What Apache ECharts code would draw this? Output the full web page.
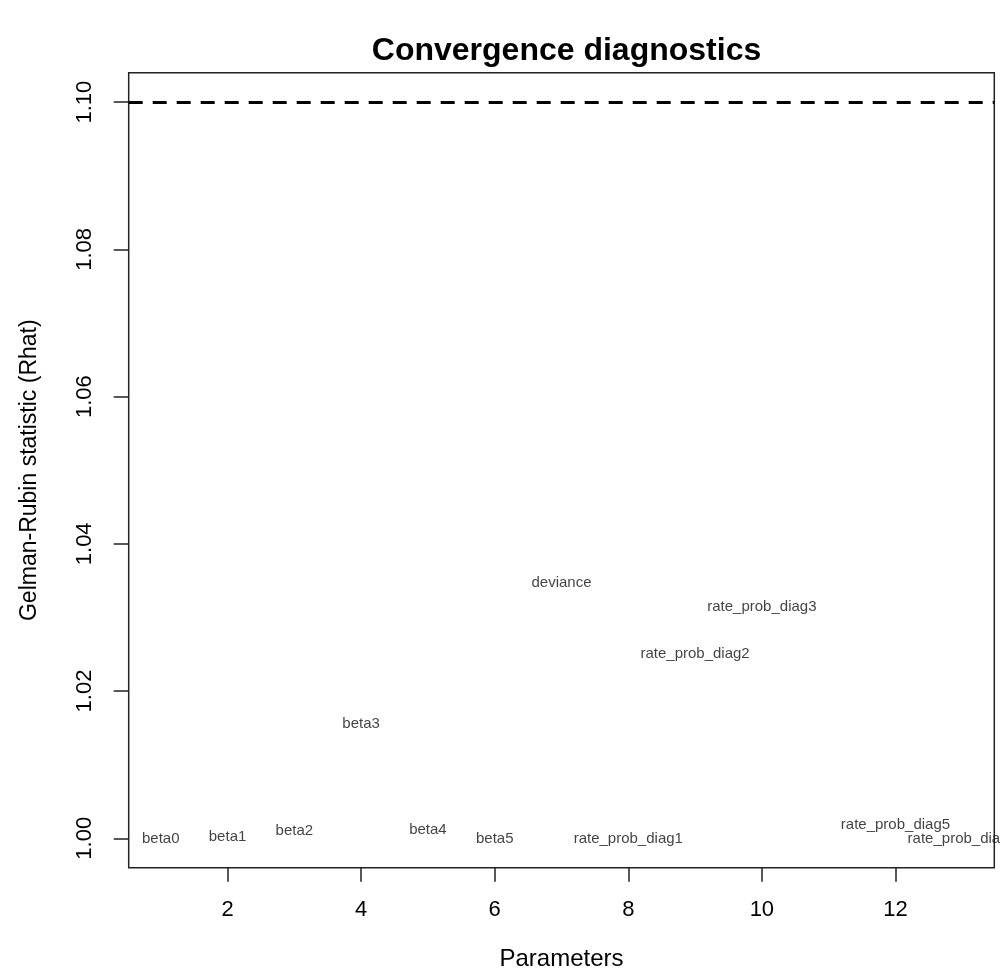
<!DOCTYPE html>
<html>
<head>
<meta charset="utf-8">
<script src="https://cdn.jsdelivr.net/npm/echarts@6/dist/echarts.min.js"></script>
<style>
html,body{margin:0;padding:0;background:#fff;}
#chart{width:1000px;height:971px;}
</style>
</head>
<body>
<div id="chart"></div>
<script>
const categories = ['beta0','beta1','beta2','beta3','beta4','beta5','deviance',
  'rate_prob_diag1','rate_prob_diag2','rate_prob_diag3','rate_prob_diag4','rate_prob_diag5','rate_prob_diag6'];
const rhat = [0.9999, 1.0002, 1.0010, 1.0155, 1.0012, 0.9999, 1.0347,
  0.9999, 1.0250, 1.0315, null, 1.0018, 0.9999];
const xTicks = [2, 4, 6, 8, 10, 12];
const yTicks = [1.00, 1.02, 1.04, 1.06, 1.08, 1.10];
const threshold = 1.1;

const FONT = "'Liberation Sans', Arial, Helvetica, sans-serif";
const points = [];
categories.forEach((c, i) => {
  if (rhat[i] !== null) points.push({ value: [i + 1, rhat[i]], name: c });
});

const chart = echarts.init(document.getElementById('chart'), null, { renderer: 'canvas' });
chart.setOption({
  backgroundColor: '#ffffff',
  animation: false,
  textStyle: { fontFamily: FONT },
  title: {
    text: 'Convergence diagnostics',
    left: 561.5, top: 30, textAlign: 'center',
    textStyle: { fontFamily: FONT, fontWeight: 'bold', fontSize: 32, color: '#000' }
  },
  grid: {
    left: 128.7, right: 5.7, top: 72.7, bottom: 103.3,
    containLabel: false, outerBoundsMode: 'none',
    show: true, borderColor: '#222', borderWidth: 1.5, backgroundColor: 'transparent'
  },
  xAxis: {
    type: 'value', min: 0.52, max: 13.48,
    name: 'Parameters', nameLocation: 'middle', nameGap: 80,
    nameTextStyle: { fontFamily: FONT, fontSize: 24, color: '#000' },
    axisLine: { show: false },
    axisTick: { show: true, customValues: xTicks, length: 14, lineStyle: { color: '#222', width: 1.5 } },
    axisLabel: { customValues: xTicks, margin: 31, fontSize: 22, color: '#000', fontFamily: FONT },
    splitLine: { show: false }
  },
  yAxis: {
    type: 'value', min: 0.996, max: 1.104,
    name: 'Gelman-Rubin statistic (Rhat)', nameLocation: 'middle', nameGap: 88,
    nameTextStyle: { fontFamily: FONT, fontSize: 23, color: '#000' },
    axisLine: { show: false },
    axisTick: { show: true, customValues: yTicks, length: 15, lineStyle: { color: '#222', width: 1.5 } },
    axisLabel: { customValues: yTicks, rotate: 90, margin: 33, fontSize: 22, color: '#000', fontFamily: FONT,
      formatter: v => v.toFixed(2) },
    splitLine: { show: false }
  },
  series: [{
    type: 'scatter',
    data: points,
    symbolSize: 1,
    itemStyle: { color: 'rgba(0,0,0,0)' },
    label: {
      show: true, position: 'inside', formatter: p => p.name,
      fontFamily: FONT, fontSize: 15, color: '#111'
    },
    labelLayout: { hideOverlap: false },
    markLine: {
      silent: true, symbol: 'none', label: { show: false },
      lineStyle: { type: [14, 10], width: 3, color: '#000' },
      data: [{ yAxis: threshold }]
    }
  }]
});
</script>
</body>
</html>
